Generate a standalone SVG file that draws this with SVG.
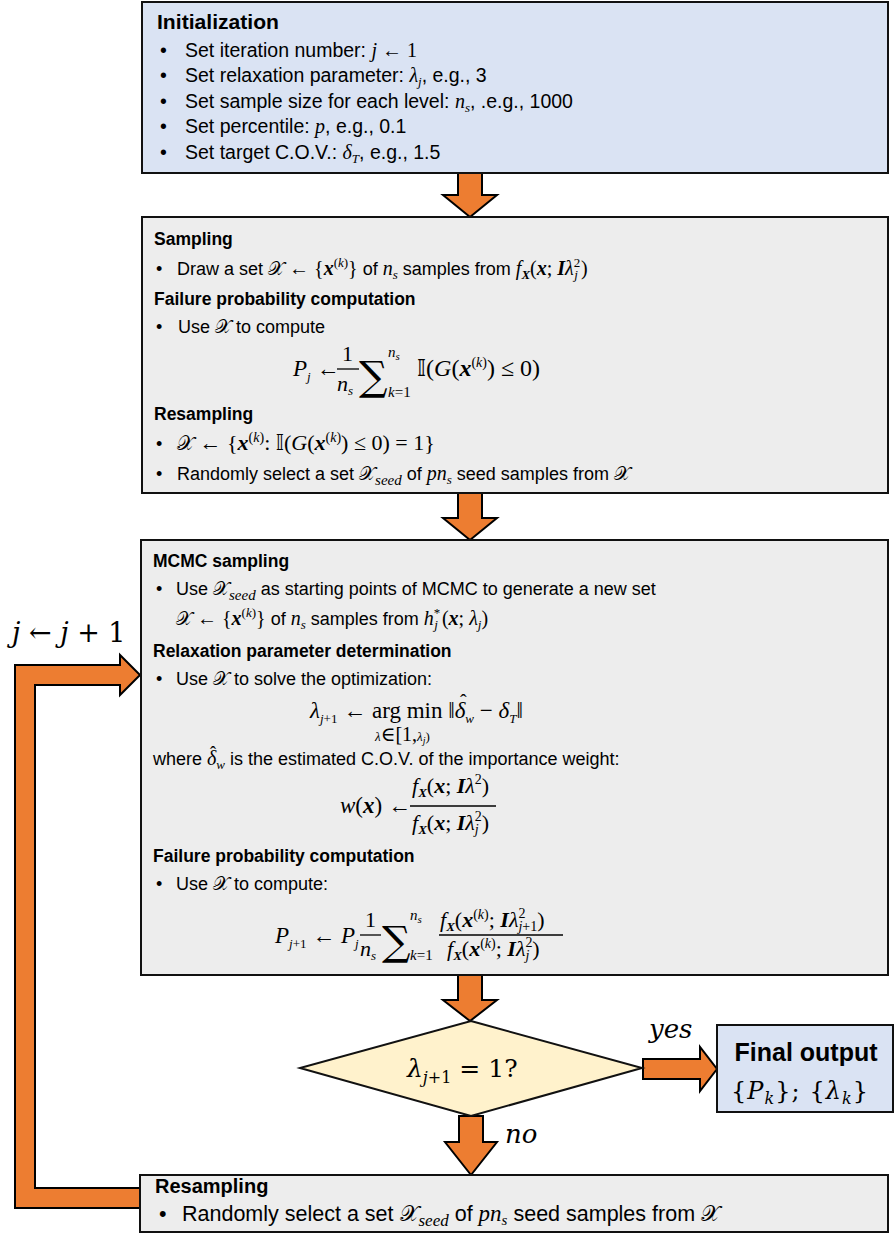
<svg xmlns="http://www.w3.org/2000/svg" width="895" height="1234" viewBox="0 0 895 1234">
<style>
.box{stroke:#111;stroke-width:2}
.blue{fill:#dae3f3}
.grey{fill:#ededed}
.dia{fill:#fff2cc}
.arr{fill:#ed7d31;stroke:#000;stroke-width:2;stroke-linejoin:miter}
.t{font-family:"Liberation Sans",Arial,sans-serif;font-size:18px;fill:#000}
.t1{font-size:19.5px}
.t4{font-size:21.5px}
.b{font-weight:bold}
.hb{font-size:17.5px}
.m{font-family:"Liberation Serif","DejaVu Serif",serif;font-style:italic;font-size:20px}
.u{font-family:"Liberation Serif","DejaVu Serif",serif;font-style:normal;font-size:20px}
.bx{font-family:"Liberation Serif","DejaVu Serif",serif;font-style:italic;font-weight:bold;font-size:20px}
.sc{font-family:"DejaVu Sans","DejaVu Serif",serif;font-style:normal;font-weight:normal;font-size:19px}
.s{font-size:13px}
.sig{font-family:"DejaVu Serif","Liberation Serif",serif;font-style:normal;font-size:40px}
.fl{stroke:#000;stroke-width:1.3}
.L{font-size:22px}
.dv{font-family:"DejaVu Serif","Liberation Serif",serif;font-style:italic}
.dvu{font-family:"DejaVu Serif","Liberation Serif",serif;font-style:normal}
.hat{font-family:"Liberation Serif","DejaVu Serif",serif;font-style:normal;font-size:20px}
</style>

<g id="connectors">
  <polygon class="arr" points="458,173 482,173 482,195 497,195 470,217 443,195 458,195"/>
  <polygon class="arr" points="458,493 482,493 482,518 497,518 470,540 443,518 458,518"/>
  <polygon class="arr" points="458,975 482,975 482,1000 497,1000 470,1021 443,1000 458,1000"/>
  <polygon class="arr" points="459,1116 483,1116 483,1142 497,1142 471,1175 445,1142 459,1142"/>
  <polygon class="arr" points="643,1059 700,1059 700,1047 717,1069 700,1091 700,1079 643,1079"/>
  <path class="arr" d="M141,1208 L15,1208 L15,665 L120,665 L120,655 L140,675 L120,695 L120,685 L35,685 L35,1188 L141,1188"/>
  <text class="dv" x="12" y="642" style="font-size:27px">j<tspan class="dvu"> ← </tspan>j<tspan class="dvu"> + 1</tspan></text>
  <text class="dv" x="649" y="1038" style="font-size:26px">yes</text>
  <text class="dv" x="505" y="1143" style="font-size:26px">no</text>
</g>

<g id="init">
  <rect class="box blue" x="142" y="2" width="746" height="171"/>
  <text class="t b" x="157" y="29" style="font-size:20.5px" textLength="122" lengthAdjust="spacingAndGlyphs">Initialization</text>
  <text class="t t1" x="160" y="57">•</text>
  <text class="t t1" x="185" y="57">Set iteration number: <tspan class="m">j</tspan><tspan class="u"> ← 1</tspan></text>
  <text class="t t1" x="160" y="82">•</text>
  <text class="t t1" x="185" y="82">Set relaxation parameter: <tspan class="m">λ</tspan><tspan class="m s" dy="4">j</tspan><tspan dy="-4">, e.g., 3</tspan></text>
  <text class="t t1" x="160" y="108">•</text>
  <text class="t t1" x="185" y="108">Set sample size for each level: <tspan class="m">n</tspan><tspan class="m s" dy="4">s</tspan><tspan dy="-4">, .e.g., 1000</tspan></text>
  <text class="t t1" x="160" y="133">•</text>
  <text class="t t1" x="185" y="133">Set percentile: <tspan class="m">p</tspan>, e.g., 0.1</text>
  <text class="t t1" x="160" y="159">•</text>
  <text class="t t1" x="185" y="159">Set target C.O.V.: <tspan class="m">δ</tspan><tspan class="m s" dy="4">T</tspan><tspan dy="-4">, e.g., 1.5</tspan></text>
</g>

<g id="sampling">
  <rect class="box grey" x="142" y="217" width="746" height="276"/>
  <text class="t b hb" x="154" y="245">Sampling</text>
  <text class="t" x="156" y="275">•</text>
  <text class="t" x="177" y="275">Draw a set <tspan class="sc">𝒳</tspan><tspan class="u"> ← {</tspan><tspan class="bx">x</tspan><tspan class="u s" dy="-8">(</tspan><tspan class="m s">k</tspan><tspan class="u s">)</tspan><tspan class="u" dy="8">}</tspan> of <tspan class="m">n</tspan><tspan class="m s" dy="4">s</tspan><tspan dy="-4"> samples from </tspan><tspan class="m">f</tspan><tspan class="bx s" dy="4">X</tspan><tspan class="u" dy="-4">(</tspan><tspan class="bx">x</tspan><tspan class="u">; </tspan><tspan class="bx">I</tspan><tspan class="m">λ</tspan><tspan class="u s" dy="-8">2</tspan><tspan class="m s" dx="-6" dy="12">j</tspan><tspan class="u" dx="3" dy="-4">)</tspan></text>
  <text class="t b hb" x="154" y="305">Failure probability computation</text>
  <text class="t" x="156" y="333">•</text>
  <text class="t" x="178" y="333">Use <tspan class="sc">𝒳</tspan> to compute</text>
  <text class="m" x="293" y="376" style="font-size:23px">P<tspan class="s" dy="5">j</tspan><tspan class="u" dy="-5" style="font-size:23px"> ←</tspan></text>
  <text class="u L" x="342" y="361">1</text>
  <line class="fl" x1="337" y1="369" x2="359" y2="369"/>
  <text class="m L" x="337" y="391">n<tspan class="s" dy="4">s</tspan></text>
  <text class="sig" x="359" y="390">∑</text>
  <text class="m" x="388" y="357" style="font-size:15px">n<tspan style="font-size:11px" dy="3">s</tspan></text>
  <text class="m" x="388" y="397" style="font-size:15px">k<tspan class="u" style="font-size:15px">=1</tspan></text>
  <text class="u" x="417" y="376" style="font-size:24px"><tspan class="sc" style="font-size:23px">𝕀</tspan>(<tspan class="m" style="font-size:24px">G</tspan>(<tspan class="bx" style="font-size:24px">x</tspan><tspan class="s" style="font-size:14px" dy="-9">(</tspan><tspan class="m" style="font-size:14px">k</tspan><tspan style="font-size:14px">)</tspan><tspan dy="9">) ≤ 0)</tspan></text>
  <text class="t b hb" x="154" y="420">Resampling</text>
  <text class="t" x="156" y="450">•</text>
  <text class="t" x="177" y="450"><tspan class="sc" style="font-size:20px">𝒳</tspan><tspan class="u L"> ← {</tspan><tspan class="bx L">x</tspan><tspan class="u" style="font-size:14px" dy="-8">(</tspan><tspan class="m" style="font-size:14px">k</tspan><tspan class="u" style="font-size:14px">)</tspan><tspan class="u L" dy="8">: </tspan><tspan class="sc" style="font-size:21px">𝕀</tspan><tspan class="u L">(</tspan><tspan class="m L">G</tspan><tspan class="u L">(</tspan><tspan class="bx L">x</tspan><tspan class="u" style="font-size:14px" dy="-8">(</tspan><tspan class="m" style="font-size:14px">k</tspan><tspan class="u" style="font-size:14px">)</tspan><tspan class="u L" dy="8">) ≤ 0) = 1}</tspan></text>
  <text class="t" x="156" y="480">•</text>
  <text class="t" x="177" y="480">Randomly select a set <tspan class="sc">𝒳</tspan><tspan class="m s" dy="5" style="font-size:15px">seed</tspan><tspan dy="-5"> of </tspan><tspan class="m">pn</tspan><tspan class="m s" dy="4">s</tspan><tspan dy="-4"> seed samples from </tspan><tspan class="sc">𝒳</tspan></text>
</g>

<g id="mcmc">
  <rect class="box grey" x="141" y="540" width="747" height="435"/>
  <text class="t b hb" x="153" y="567">MCMC sampling</text>
  <text class="t" x="156" y="595">•</text>
  <text class="t" x="176" y="595">Use <tspan class="sc">𝒳</tspan><tspan class="m s" dy="5" style="font-size:15px">seed</tspan><tspan dy="-5"> as starting points of MCMC to generate a new set</tspan></text>
  <text class="t" x="176" y="625"><tspan class="sc">𝒳</tspan><tspan class="u"> ← {</tspan><tspan class="bx">x</tspan><tspan class="u s" dy="-8">(</tspan><tspan class="m s">k</tspan><tspan class="u s">)</tspan><tspan class="u" dy="8">}</tspan> of <tspan class="m">n</tspan><tspan class="m s" dy="4">s</tspan><tspan dy="-4"> samples from </tspan><tspan class="m">h</tspan><tspan class="u s" dy="-8">*</tspan><tspan class="m s" dx="-6" dy="12">j</tspan><tspan class="u" dx="4" dy="-4">(</tspan><tspan class="bx">x</tspan><tspan class="u">; </tspan><tspan class="m">λ</tspan><tspan class="m s" dy="4">j</tspan><tspan class="u" dy="-4">)</tspan></text>
  <text class="t b hb" x="153" y="657">Relaxation parameter determination</text>
  <text class="t" x="156" y="685">•</text>
  <text class="t" x="176" y="685">Use <tspan class="sc">𝒳</tspan> to solve the optimization:</text>
  <text class="m" x="310" y="718" style="font-size:23px">λ<tspan class="s" dy="5">j</tspan><tspan class="u s" style="font-size:13px">+1</tspan><tspan class="u" dy="-5" style="font-size:23px"> ← arg min </tspan><tspan class="u" style="font-size:23px">‖</tspan><tspan style="font-size:23px">δ</tspan><tspan class="s" dy="5">w</tspan><tspan class="u" dy="-5" style="font-size:23px"> − </tspan><tspan style="font-size:23px">δ</tspan><tspan class="s" dy="5">T</tspan><tspan class="u" dy="-5" style="font-size:23px">‖</tspan></text>
  <text class="hat" x="460" y="709">ˆ</text>
  <text class="m" x="375" y="741" style="font-size:13px">λ<tspan class="u">∈[1,</tspan>λ<tspan dy="3" style="font-size:10px">j</tspan><tspan class="u" dy="-3" style="font-size:13px">)</tspan></text>
  <text class="t" x="153" y="765">where <tspan class="m">δ</tspan><tspan class="m s" dy="4">w</tspan><tspan dy="-4"> is the estimated C.O.V. of the importance weight:</tspan></text>
  <text class="hat" x="210" y="759" style="font-size:18px">ˆ</text>
  <text class="m" x="340" y="813" style="font-size:23px">w<tspan class="u" style="font-size:23px">(</tspan><tspan class="bx" style="font-size:23px">x</tspan><tspan class="u" style="font-size:23px">) ←</tspan></text>
  <text class="m L" x="412" y="793">f<tspan class="bx s" dy="4">X</tspan><tspan class="u L" dy="-4">(</tspan><tspan class="bx L">x</tspan><tspan class="u L">; </tspan><tspan class="bx L">I</tspan>λ<tspan class="u" style="font-size:14px" dy="-9">2</tspan><tspan class="u L" dy="9">)</tspan></text>
  <line class="fl" x1="410" y1="806" x2="496" y2="806"/>
  <text class="m L" x="412" y="830">f<tspan class="bx s" dy="4">X</tspan><tspan class="u L" dy="-4">(</tspan><tspan class="bx L">x</tspan><tspan class="u L">; </tspan><tspan class="bx L">I</tspan>λ<tspan class="u" style="font-size:14px" dy="-9">2</tspan><tspan style="font-size:14px" dx="-7" dy="13">j</tspan><tspan class="u L" dx="3" dy="-4">)</tspan></text>
  <text class="t b hb" x="153" y="862">Failure probability computation</text>
  <text class="t" x="156" y="890">•</text>
  <text class="t" x="176" y="890">Use <tspan class="sc">𝒳</tspan> to compute:</text>
  <text class="m" x="275" y="943" style="font-size:23px">P<tspan class="s" dy="5">j</tspan><tspan class="u s">+1</tspan><tspan class="u" dy="-5" style="font-size:23px"> ← </tspan>P<tspan class="s" dy="5">j</tspan></text>
  <text class="u L" x="365" y="927">1</text>
  <line class="fl" x1="360" y1="935" x2="381" y2="935"/>
  <text class="m L" x="360" y="956">n<tspan class="s" dy="4">s</tspan></text>
  <text class="sig" x="382" y="955">∑</text>
  <text class="m" x="410" y="920" style="font-size:15px">n<tspan style="font-size:11px" dy="3">s</tspan></text>
  <text class="m" x="410" y="960" style="font-size:15px">k<tspan class="u" style="font-size:15px">=1</tspan></text>
  <text class="m L" x="440" y="927">f<tspan class="bx s" dy="4">X</tspan><tspan class="u L" dy="-4">(</tspan><tspan class="bx L">x</tspan><tspan class="u" style="font-size:14px" dy="-8">(</tspan><tspan style="font-size:14px">k</tspan><tspan class="u" style="font-size:14px">)</tspan><tspan class="u L" dy="8">; </tspan><tspan class="bx L">I</tspan>λ<tspan class="u" style="font-size:14px" dy="-9">2</tspan><tspan style="font-size:14px" dx="-7" dy="13">j</tspan><tspan class="u" style="font-size:14px">+1</tspan><tspan class="u L" dy="-4">)</tspan></text>
  <line class="fl" x1="439" y1="935" x2="563" y2="935"/>
  <text class="m L" x="447" y="956">f<tspan class="bx s" dy="4">X</tspan><tspan class="u L" dy="-4">(</tspan><tspan class="bx L">x</tspan><tspan class="u" style="font-size:14px" dy="-8">(</tspan><tspan style="font-size:14px">k</tspan><tspan class="u" style="font-size:14px">)</tspan><tspan class="u L" dy="8">; </tspan><tspan class="bx L">I</tspan>λ<tspan class="u" style="font-size:14px" dy="-9">2</tspan><tspan style="font-size:14px" dx="-7" dy="13">j</tspan><tspan class="u L" dx="3" dy="-4">)</tspan></text>
</g>

<g id="decision">
  <polygon class="box dia" points="471,1021 642,1068 471,1116 300,1068"/>
  <text class="dv" x="407" y="1077" style="font-size:25px">λ<tspan style="font-size:16px" dy="6">j</tspan><tspan class="dvu" style="font-size:16px">+1</tspan><tspan class="dvu" dy="-6" style="font-size:25px"> = 1?</tspan></text>
</g>

<g id="final">
  <rect class="box blue" x="717" y="1025" width="176" height="87"/>
  <text class="t b" x="806" y="1061" text-anchor="middle" style="font-size:25px">Final output</text>
  <text class="dvu" x="731" y="1099" style="font-size:24px" textLength="137" lengthAdjust="spacing">{<tspan class="dv">P</tspan><tspan class="dv" dy="5" style="font-size:16px">k</tspan><tspan dy="-5">}; {</tspan><tspan class="dv">λ</tspan><tspan class="dv" dy="5" style="font-size:16px">k</tspan><tspan dy="-5">}</tspan></text>
</g>

<g id="resample2">
  <rect class="box grey" x="140" y="1175" width="748" height="57"/>
  <text class="t b" x="155" y="1193" style="font-size:20px">Resampling</text>
  <text class="t t4" x="159" y="1221">•</text>
  <text class="t t4" x="182" y="1221">Randomly select a set <tspan class="sc" style="font-size:22px">𝒳</tspan><tspan class="m" dy="5" style="font-size:17px">seed</tspan><tspan dy="-5"> of </tspan><tspan class="m" style="font-size:23px">pn</tspan><tspan class="m" dy="4" style="font-size:15px">s</tspan><tspan dy="-4"> seed samples from </tspan><tspan class="sc" style="font-size:22px">𝒳</tspan></text>
</g>
</svg>
